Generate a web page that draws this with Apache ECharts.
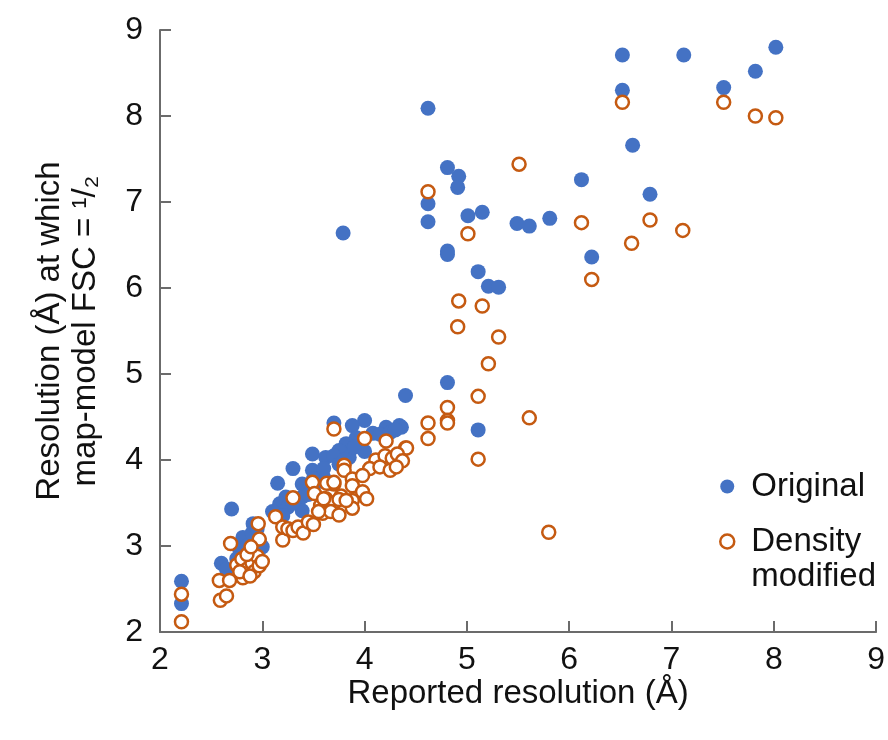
<!DOCTYPE html>
<html>
<head>
<meta charset="utf-8">
<script src="https://cdn.jsdelivr.net/npm/echarts@6/dist/echarts.min.js"></script>
<style>
html,body{margin:0;padding:0;background:#fff;}
#chart{width:888px;height:740px;}
</style>
</head>
<body>
<div id="chart"></div>
<script>
// ---- data ----
const xTicks = [2, 3, 4, 5, 6, 7, 8, 9];
const yTicks = [2, 3, 4, 5, 6, 7, 8, 9];
const seriesNames = ['Original', 'Density modified'];

const originalData = [
  [6.52,8.71],[7.12,8.71],[8.02,8.80],[6.52,8.30],[7.51,8.33],[7.82,8.52],[4.62,8.09],[6.62,7.66],
  [4.81,7.40],[4.92,7.30],[4.91,7.17],[6.12,7.26],[6.79,7.09],[4.62,6.98],[4.62,6.77],[5.01,6.84],
  [5.15,6.88],[5.49,6.75],[5.61,6.72],[5.81,6.81],[4.81,6.43],[4.81,6.39],[6.22,6.36],[5.11,6.19],
  [5.21,6.02],[5.31,6.01],[3.79,6.64],
  [4.81,4.90],[4.40,4.75],[5.11,4.35],[4.36,4.38],
  [2.21,2.59],[2.21,2.33],[2.70,3.43],[2.60,2.80],[2.65,2.73],[2.78,2.95],[2.81,3.10],[2.87,2.87],
  [2.91,3.26],[2.97,3.07],[3.00,2.99],[2.85,3.00],[2.90,3.15],[2.75,2.85],[2.95,3.20],
  [3.15,3.73],[3.30,3.90],[3.49,4.07],[3.49,3.88],[3.39,3.72],[3.65,3.73],[3.23,3.57],[3.39,3.57],
  [3.17,3.49],[3.39,3.41],[3.25,3.45],[3.30,3.50],[3.45,3.60],[3.55,3.75],[3.60,3.80],
  [3.70,4.43],[4.00,4.46],[3.88,4.40],[4.34,4.40],[4.21,4.38],[4.08,4.31],[3.92,4.26],[3.82,4.19],
  [3.75,4.11],[3.62,4.03],[3.85,4.03],[3.70,4.05],[3.95,4.20],[4.00,4.10],[4.15,4.30],[3.75,3.95],
  [3.80,4.00],[3.90,4.15],[4.25,4.32],[4.30,4.35],[3.50,3.78],[3.60,3.90],[3.10,3.40],[3.20,3.35]
];

const densityModifiedData = [
  [6.52,8.16],[7.51,8.16],[7.82,8.00],[8.02,7.98],[5.51,7.44],[4.62,7.12],[6.12,6.76],[6.79,6.79],
  [7.11,6.67],[6.61,6.52],[5.01,6.63],[6.22,6.10],[4.92,5.85],[5.15,5.79],[4.91,5.55],[5.31,5.43],
  [5.21,5.12],[5.11,4.74],[4.81,4.61],[4.81,4.46],[4.81,4.43],[4.62,4.43],[4.62,4.25],[5.61,4.49],
  [5.11,4.01],[5.80,3.16],[4.40,4.14],[4.36,3.99],
  [2.21,2.44],[2.21,2.12],[2.58,2.60],[2.59,2.37],[2.65,2.42],[2.69,3.03],[2.68,2.60],[2.81,2.63],
  [2.75,2.78],[2.80,2.85],[2.85,2.73],[2.90,2.80],[2.95,2.88],[2.85,2.90],[2.92,2.70],[2.97,2.77],
  [3.00,2.82],[2.78,2.70],[2.88,2.65],[2.96,3.26],[2.97,3.08],[2.89,2.99],
  [3.13,3.34],[3.20,3.07],[3.20,3.22],[3.25,3.20],[3.30,3.18],[3.35,3.22],[3.40,3.15],[3.45,3.28],
  [3.30,3.56],[3.49,3.74],[3.70,3.72],[3.51,3.61],[3.57,3.47],[3.62,3.55],[3.70,3.50],[3.77,3.58],
  [3.59,3.38],[3.67,3.40],[3.75,3.36],
  [3.70,4.36],[4.00,4.25],[4.21,4.22],[4.41,4.14],[3.80,3.94],[3.80,3.88],[4.11,4.00],[4.20,4.05],
  [4.27,4.02],[4.32,4.07],[4.37,3.99],[4.05,3.90],[4.15,3.92],[4.25,3.88],[4.31,3.92],[3.63,3.73],
  [3.70,3.74],[3.88,3.78],[3.98,3.82],[3.88,3.70],[3.98,3.63],[4.02,3.55],[3.88,3.53],[3.88,3.44],
  [3.60,3.55],[3.75,3.54],[3.82,3.53],[3.50,3.25],[3.55,3.40]
];

// ---- chart ----
const FONT = '"Liberation Sans", Arial, Helvetica, sans-serif';
const BLUE = '#4472C4';
const ORANGE = '#C55A11';
const AXIS = '#6b6b6b';

const chart = echarts.init(document.getElementById('chart'), null, {renderer: 'canvas'});

function axisCommon(ticks) {
  return {
    type: 'value',
    min: ticks[0],
    max: ticks[ticks.length - 1],
    interval: ticks[1] - ticks[0],
    splitLine: {show: false},
    axisLine: {show: true, lineStyle: {color: AXIS, width: 2}},
    axisTick: {show: true, inside: true, length: 11, lineStyle: {color: AXIS, width: 2}},
    nameTextStyle: {fontSize: 33, color: '#111', fontFamily: FONT, lineHeight: 36},
    nameLocation: 'middle',
    nameMoveOverlap: false
  };
}

const option = {
  backgroundColor: '#fff',
  animation: false,
  textStyle: {fontFamily: FONT},
  grid: {left: 160, right: 11, top: 30, bottom: 108},
  xAxis: Object.assign(axisCommon(xTicks), {
    name: 'Reported resolution (Å)',
    nameGap: 44,
    axisLabel: {fontSize: 32, color: '#111', fontFamily: FONT, margin: 12}
  }),
  yAxis: Object.assign(axisCommon(yTicks), {
    name: 'Resolution (Å) at which\nmap-model FSC = ¹/₂',
    nameRotate: 90,
    nameGap: 56,
    axisLabel: {fontSize: 32, color: '#111', fontFamily: FONT, margin: 17}
  }),
  legend: {
    orient: 'vertical',
    left: 719,
    top: 469,
    padding: 0,
    itemWidth: 38,
    itemHeight: 14,
    itemGap: -15,
    icon: 'circle',
    textStyle: {fontSize: 33, color: '#111', fontFamily: FONT, lineHeight: 35},
    formatter: function (name) { return name === seriesNames[1] ? ' \nDensity\nmodified' : name; },
    data: [
      seriesNames[0],
      {name: seriesNames[1], itemStyle: {borderWidth: 2.5}}
    ]
  },
  series: [
    {
      name: seriesNames[0],
      type: 'scatter',
      data: originalData,
      symbol: 'circle',
      symbolSize: 15,
      itemStyle: {color: BLUE, opacity: 1},
      z: 2
    },
    {
      name: seriesNames[1],
      type: 'scatter',
      data: densityModifiedData,
      symbol: 'circle',
      symbolSize: 13,
      itemStyle: {color: '#ffffff', borderColor: ORANGE, borderWidth: 2.5, opacity: 1},
      z: 3
    }
  ]
};

chart.setOption(option);
</script>
</body>
</html>
